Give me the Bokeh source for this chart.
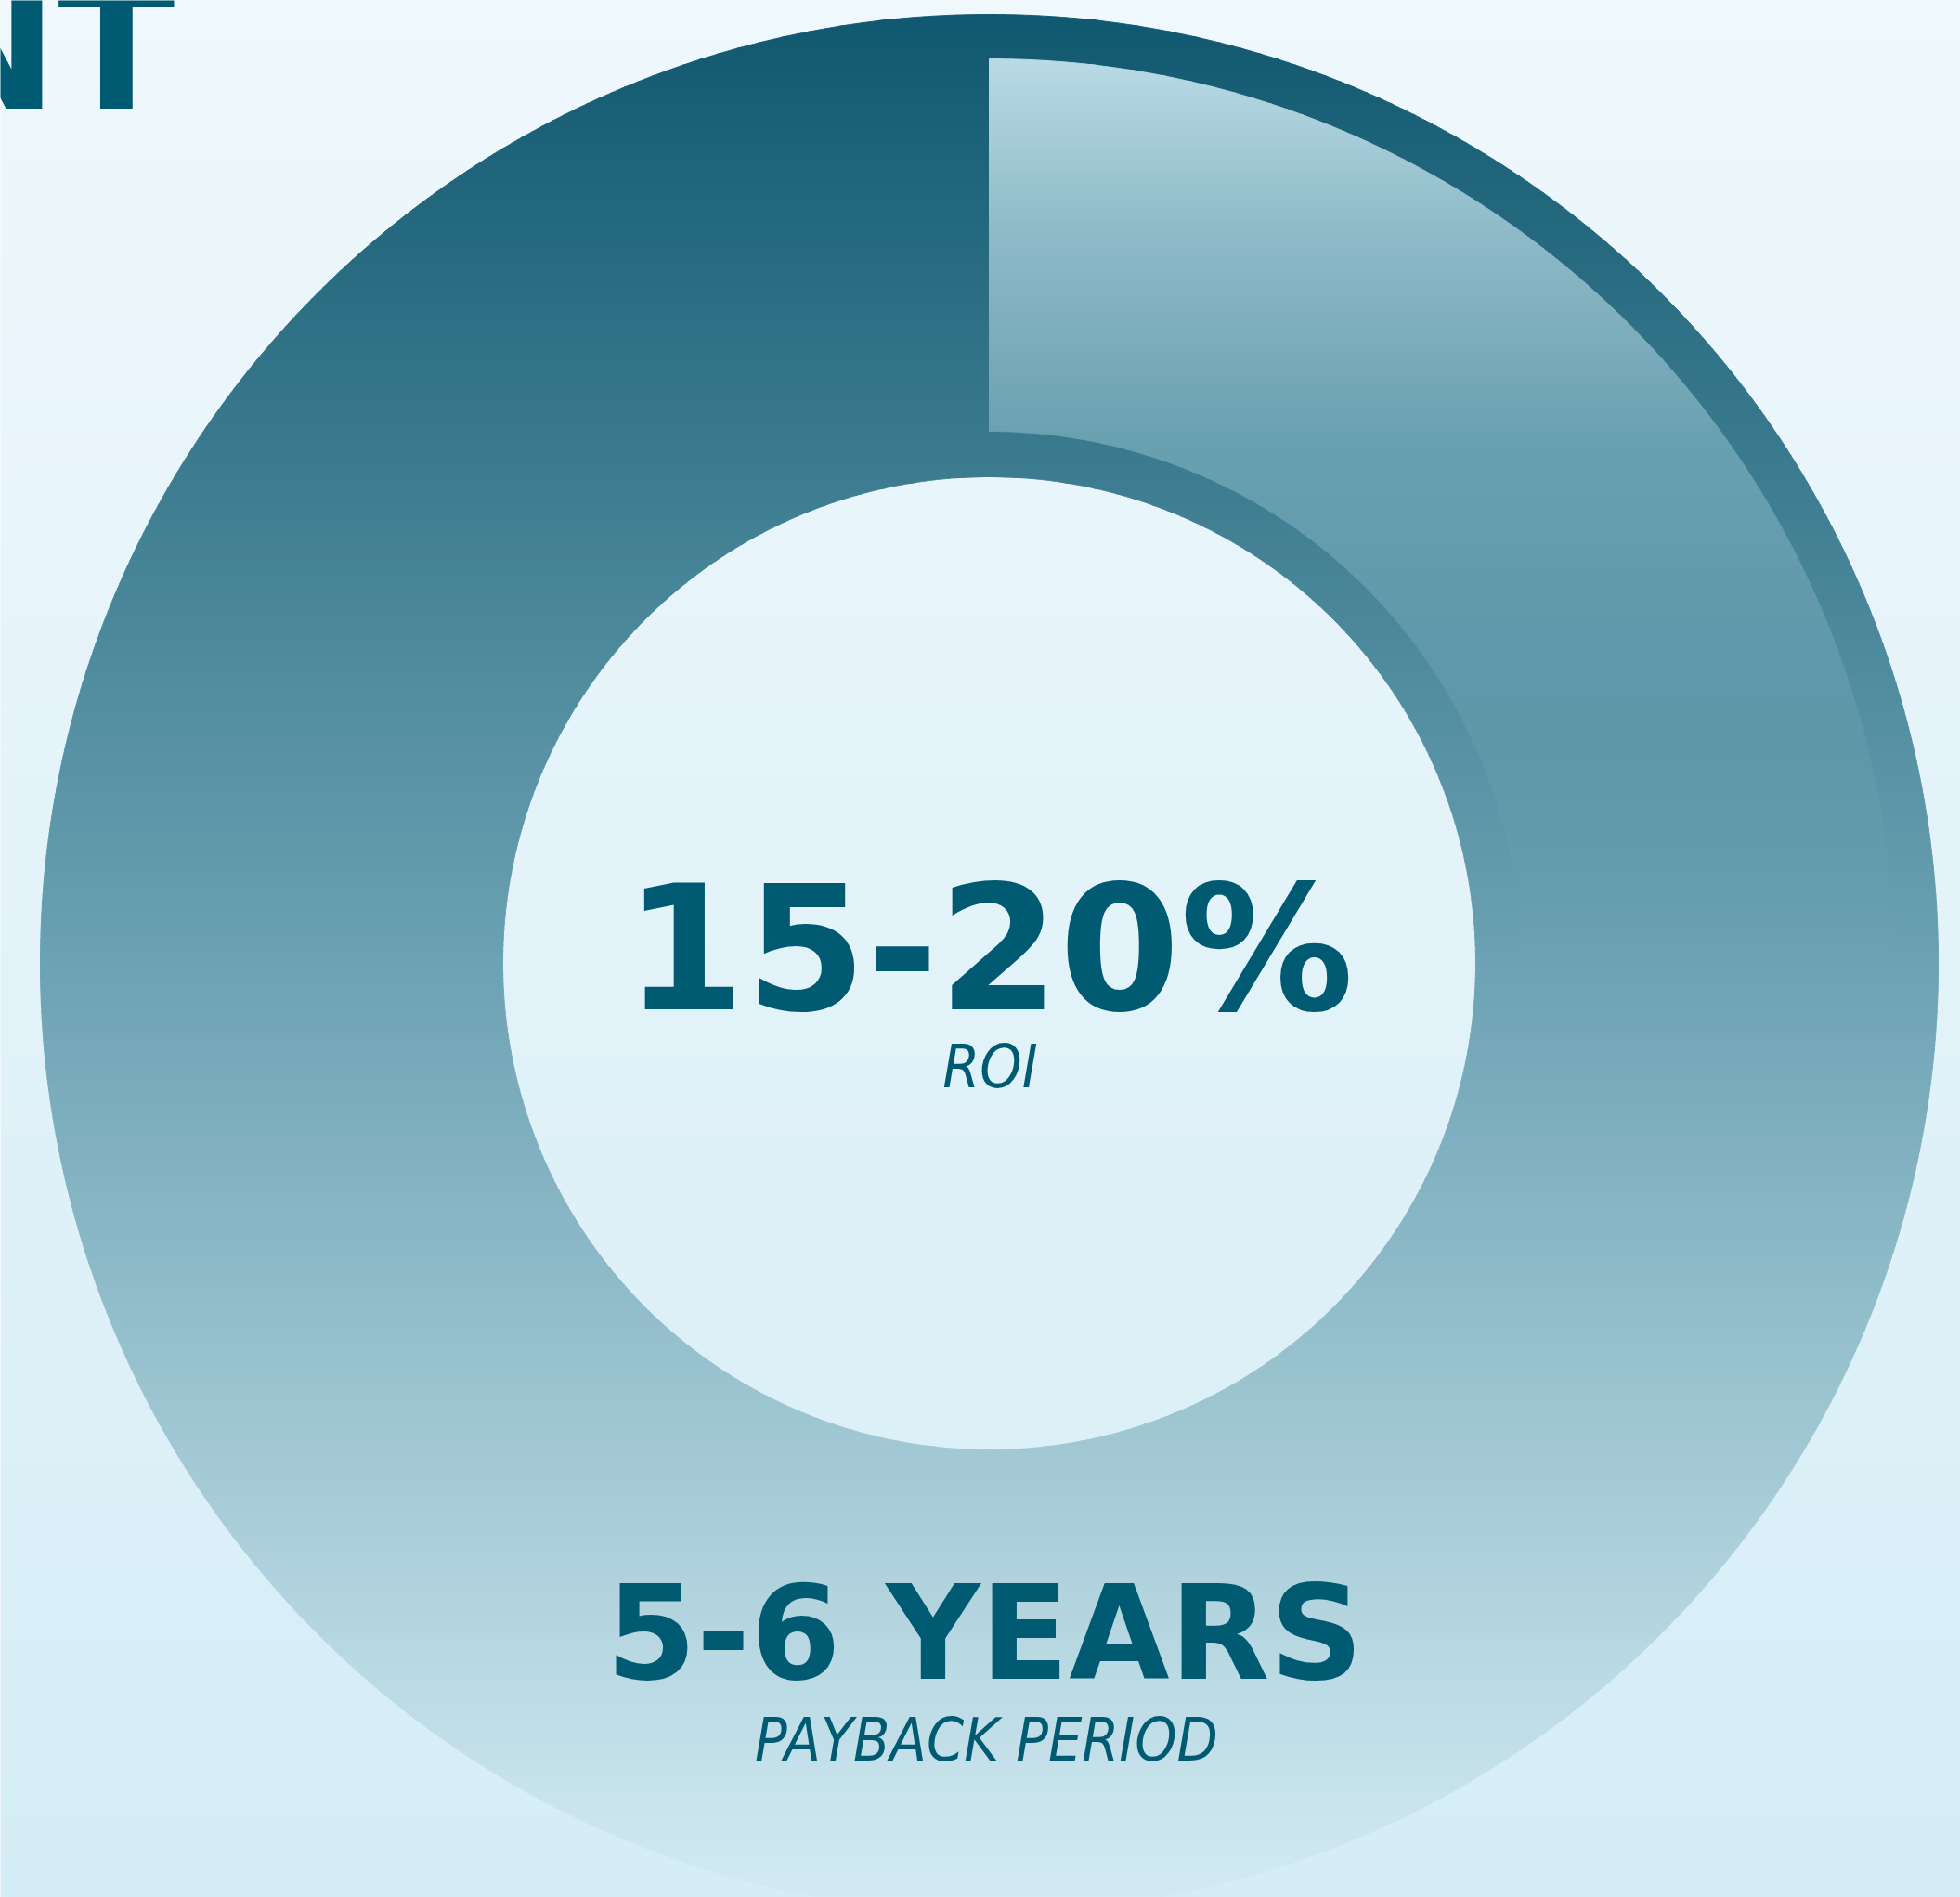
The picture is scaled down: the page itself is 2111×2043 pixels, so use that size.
import numpy as np
from bokeh.plotting import figure
from bokeh.models import Range1d, ColumnDataSource
from bokeh.core.properties import value
from bokeh.embed import file_html
from bokeh.resources import INLINE

# ---------------- data ----------------
ring_labels = ["Track", "Highlighted share"]
ring_shares = [100, 25]          # percent of the full circle
headline_values = ["15-20%", "5-6 YEARS"]
headline_labels = ["ROI", "PAYBACK PERIOD"]
title_text = "INVESTMENT"

# ---------------- style ----------------
TEXT_COLOR = "#005a72"
BG_STOPS_Y = [0, 2043]
BG_STOPS_C = ["#eff8fc", "#d5edf6"]
RING_STOPS_Y = [15, 1037, 2059]
RING_STOPS_C = ["#10586f", "#6ca2b3", "#d4ecf4"]
SEG_STOPS_Y = [63, 250, 465, 700, 800, 950, 1037]
SEG_STOPS_C = ["#b9dbe5", "#8ebac8", "#6aa1b1", "#5f98aa", "#5f97a9", "#659cae", "#6ca2b3"]

CX, CY = 1065, 1037
R_OUT, R_IN = 1022, 524
S_OUT, S_IN = 974, 573

W, H = 2111, 2043
X0, Y0 = 0, 0
BASE_SHIFT = 0.355   # renderer offset of the text anchor, in em


def hex2rgb(h):
    return [int(h[i:i + 2], 16) for i in (1, 3, 5)]


def grad(y, ys, cols):
    rgb = np.array([hex2rgb(c) for c in cols], dtype=float)
    r = [np.interp(y, ys, rgb[:, k]) for k in range(3)]
    return "#%02x%02x%02x" % tuple(int(round(v)) for v in r)


def wedge_pieces(ri, ro, t0, t1):
    """Annular wedge (math angles, deg, t0<t1) split at quadrant bounds."""
    cuts = [t0] + [a for a in range(-360, 721, 90) if t0 < a < t1] + [t1]
    polys = []
    for a, b in zip(cuts[:-1], cuts[1:]):
        n = max(8, int((b - a) * 8))
        th = np.radians(np.linspace(a, b, n))
        ox = CX + ro * np.cos(th)
        oy = CY - ro * np.sin(th)
        ix = CX + ri * np.cos(th[::-1])
        iy = CY - ri * np.sin(th[::-1])
        pts = list(zip(np.concatenate([ox, ix]).tolist(), np.concatenate([oy, iy]).tolist()))
        ymin = min(q[1] for q in pts)
        ymax = max(q[1] for q in pts)
        polys.append((pts, ymin, ymax))
    return polys


def clip_half(pts, yc, keep_above):
    out = []
    n = len(pts)
    for i in range(n):
        cur = pts[i]
        prev = pts[i - 1]
        cin = cur[1] >= yc if keep_above else cur[1] <= yc
        pin = prev[1] >= yc if keep_above else prev[1] <= yc
        if cin:
            if not pin:
                t = (yc - prev[1]) / (cur[1] - prev[1])
                out.append((prev[0] + t * (cur[0] - prev[0]), yc))
            out.append(cur)
        elif pin:
            t = (yc - prev[1]) / (cur[1] - prev[1])
            out.append((prev[0] + t * (cur[0] - prev[0]), yc))
    return out


def banded(polys, ys, cols, step=6):
    xs_all, ys_all, cs = [], [], []
    ymin = min(p[1] for p in polys)
    ymax = max(p[2] for p in polys)
    y = ymin
    while y < ymax:
        ya, yb = y, min(y + step + 1.0, ymax)
        col = grad(y + step / 2.0, ys, cols)
        for pts, pmin, pmax in polys:
            if pmax < ya or pmin > yb:
                continue
            c = clip_half(pts, ya, True)
            if len(c) < 3:
                continue
            c = clip_half(c, yb, False)
            if len(c) < 3:
                continue
            xs_all.append([q[0] for q in c])
            ys_all.append([q[1] for q in c])
            cs.append(col)
        y += step
    return dict(xs=xs_all, ys=ys_all, color=cs)


def label(x, y_base, txt, size, font, style, align="center"):
    p.text(x=[x], y=[y_base - BASE_SHIFT * size], text=[txt], text_font=value(font),
           text_font_style=style, text_font_size="%dpx" % size,
           text_color=TEXT_COLOR, text_align=align, text_baseline="alphabetic")


p = figure(width=W, height=H, x_range=Range1d(X0, X0 + W), y_range=Range1d(Y0 + H, Y0),
           output_backend="svg", toolbar_location=None, min_border=0)
p.axis.visible = False
p.grid.visible = False
p.outline_line_color = None
p.border_fill_color = BG_STOPS_C[0]
p.background_fill_color = BG_STOPS_C[0]

# background gradient
bstep = 6
btops = np.arange(Y0, Y0 + H, bstep)
p.quad(left=X0, right=X0 + W, top=btops, bottom=btops + bstep + 1,
       fill_color=[grad(t + bstep / 2, BG_STOPS_Y, BG_STOPS_C) for t in btops], line_color=None)

# full ring (track)
track_sweep = 360.0 * ring_shares[0] / 100.0
ring_src = ColumnDataSource(banded(wedge_pieces(R_IN, R_OUT, 90 - track_sweep, 90), RING_STOPS_Y, RING_STOPS_C))
p.patches("xs", "ys", source=ring_src, fill_color="color", line_color="color", line_width=1)

# highlighted share, clockwise from 12 o'clock
seg_sweep = 360.0 * ring_shares[1] / 100.0
seg_src = ColumnDataSource(banded(wedge_pieces(S_IN, S_OUT, 90 - seg_sweep, 90), SEG_STOPS_Y, SEG_STOPS_C))
p.patches("xs", "ys", source=seg_src, fill_color="color", line_color="color", line_width=1)

# title (cropped at top-left)
label(188, 118, title_text, 185, "DejaVu Sans", "bold", align="right")

# headline values
label(1065, 1088, headline_values[0], 187, "DejaVu Sans", "bold")
label(1060, 1809, headline_values[1], 140, "DejaVu Sans", "bold")

# sub labels
label(1066, 1171, headline_labels[0], 64, "DejaVu Sans Condensed, Open Sans", "italic")
label(1062, 1896, headline_labels[1], 64, "DejaVu Sans Condensed, Open Sans", "italic")

open("out.html", "w").write(file_html(p, INLINE))
